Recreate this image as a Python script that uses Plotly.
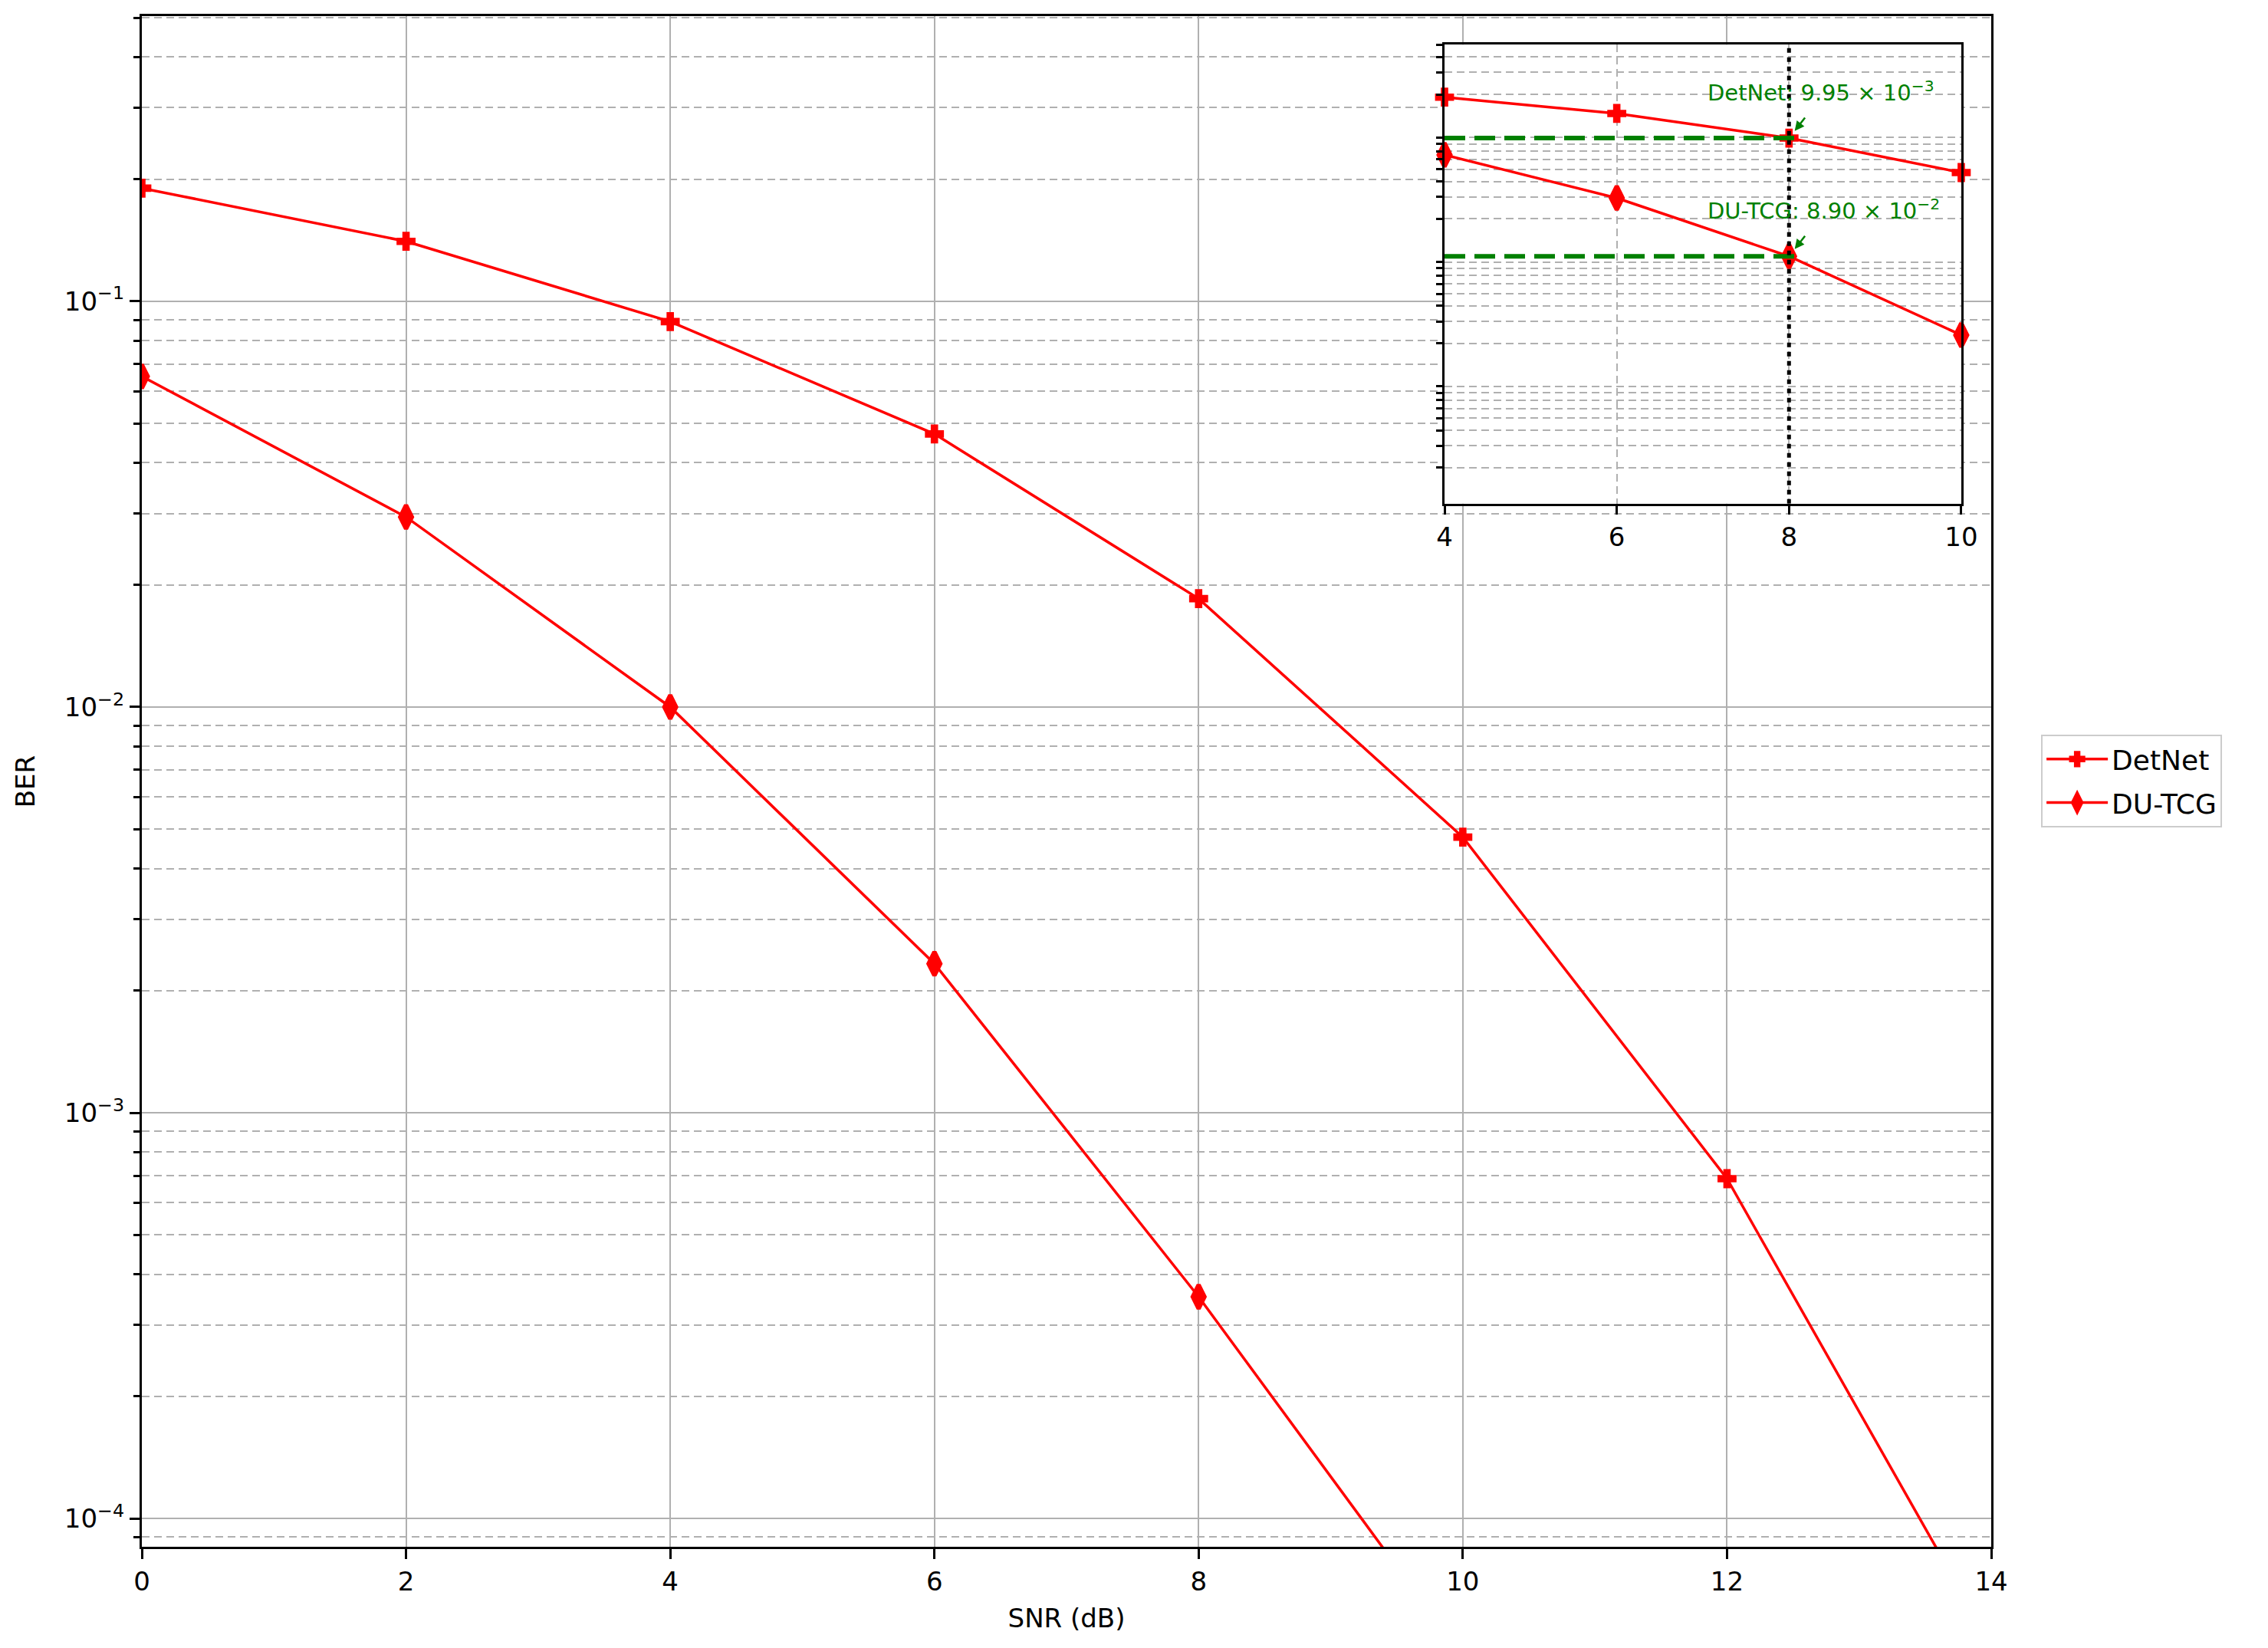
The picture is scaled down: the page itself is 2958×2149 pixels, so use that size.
import math
import plotly.graph_objects as go

# ---------------- data ----------------
snr = [0, 2, 4, 6, 8, 10, 12, 14]
detnet_ber = [0.190, 0.1405, 0.0891, 0.0471, 0.0185, 0.00478, 6.88e-4, 4.89e-5]
dutcg_snr = [0, 2, 4, 6, 8, 10]
dutcg_ber = [0.0653, 0.0294, 0.0100, 0.00233, 3.52e-4, 4.57e-5]

# inset: the first four points of each curve, drawn against SNR 4..10
inset_snr = [4, 6, 8, 10]
inset_detnet = detnet_ber[:4]
inset_dutcg = dutcg_ber[:4]
highlight_snr = 8
highlight_idx = 2
detnet_label = "DetNet: 9.95 × 10<sup>−3</sup>"
dutcg_label = "DU-TCG: 8.90 × 10<sup>−2</sup>"

x_ticks = [0, 2, 4, 6, 8, 10, 12, 14]
y_major = [1e-4, 1e-3, 1e-2, 1e-1]
y_major_text = ["10<sup>−4</sup>", "10<sup>−3</sup>", "10<sup>−2</sup>", "10<sup>−1</sup>"]
inset_x_ticks = [4, 6, 8, 10]

# ---------------- style / geometry ----------------
W, H = 2958, 2149
PAGE_OFF = 8  # browser body margin
ML, MR, MT, MB = 185 - PAGE_OFF, 361 + PAGE_OFF, 21 - PAGE_OFF, 132 + PAGE_OFF
FONT = "DejaVu Sans"
RED = "#ff0000"
GREEN = "#008000"
GRID = "#b0b0b0"
GRID_DASH = "10px,6px"

main_minor = [m * 10 ** e for e in range(-5, 0) for m in range(2, 10)]
inset_minor = [m * 10 ** e for e in range(-4, 0) for m in range(2, 10) if m * 10 ** e <= 0.5]

plus_marker = dict(symbol="cross", size=19, color=RED, line=dict(color=RED, width=2))
diamond_marker = dict(symbol="diamond-tall", size=22, color=RED, line=dict(color=RED, width=5.5))

fig = go.Figure()

# main curves
fig.add_trace(go.Scatter(
    x=snr, y=detnet_ber, name="DetNet", legendgroup="a", mode="lines+markers",
    line=dict(color=RED, width=3.5), marker=plus_marker,
    xaxis="x", yaxis="y", cliponaxis=True))
fig.add_trace(go.Scatter(
    x=dutcg_snr, y=dutcg_ber, name="DU-TCG", legendgroup="b", mode="lines+markers",
    line=dict(color=RED, width=3.5), marker=diamond_marker,
    xaxis="x", yaxis="y", cliponaxis=True))

# inset curves
fig.add_trace(go.Scatter(
    x=inset_snr, y=inset_detnet, mode="lines+markers", showlegend=False,
    line=dict(color=RED, width=3.5), marker=plus_marker,
    xaxis="x2", yaxis="y2", cliponaxis=False))
fig.add_trace(go.Scatter(
    x=inset_snr, y=inset_dutcg, mode="lines+markers", showlegend=False,
    line=dict(color=RED, width=3.5), marker=diamond_marker,
    xaxis="x2", yaxis="y2", cliponaxis=False))

# green reference lines in the inset
for vals in (inset_detnet, inset_dutcg):
    fig.add_trace(go.Scatter(
        x=[inset_snr[0], highlight_snr + 0.13], y=[vals[highlight_idx]] * 2,
        mode="lines", showlegend=False,
        line=dict(color=GREEN, width=6, dash="27px,12px"),
        xaxis="x2", yaxis="y2", cliponaxis=False))

# vertical dotted line at highlighted SNR
fig.add_trace(go.Scatter(
    x=[highlight_snr, highlight_snr], y=[10 ** -3.987, 10 ** -0.300],
    mode="lines", showlegend=False,
    line=dict(color="black", width=5, dash="6px,6px"),
    xaxis="x2", yaxis="y2", cliponaxis=True))

axis_common = dict(
    showline=True, linecolor="black", linewidth=3, mirror=True,
    ticks="outside", tickcolor="black", tickwidth=2.5,
    tickfont=dict(family=FONT, size=34, color="black"),
    zeroline=False,
)

fig.update_layout(
    width=W, height=H,
    margin=dict(l=ML, r=MR, t=MT, b=MB, autoexpand=False),
    paper_bgcolor="white", plot_bgcolor="white",
    font=dict(family=FONT, size=34, color="black"),
    xaxis=dict(
        axis_common, domain=[0, 1], anchor="y", range=[0, 14],
        tickvals=x_ticks, ticklen=13,
        showgrid=True, gridcolor=GRID, gridwidth=2,
        title=dict(text="SNR (dB)", font=dict(family=FONT, size=34), standoff=18),
    ),
    yaxis=dict(
        axis_common, domain=[0, 1], anchor="x", type="log",
        range=[-4.0696, -0.2972],
        tickvals=y_major, ticktext=y_major_text, ticklen=13,
        showgrid=True, gridcolor=GRID, gridwidth=2,
        minor=dict(tickmode="array", tickvals=main_minor, ticks="outside", ticklen=8,
                   tickwidth=2.5, tickcolor="black",
                   showgrid=True, gridcolor=GRID, gridwidth=2, griddash=GRID_DASH),
        title=dict(text="BER", font=dict(family=FONT, size=34), standoff=28),
    ),
    xaxis2=dict(
        axis_common, domain=[0.7044, 0.9838], anchor="y2", range=[4, 10],
        tickvals=inset_x_ticks, ticklen=11,
        showgrid=True, gridcolor=GRID, gridwidth=2, griddash=GRID_DASH,
    ),
    yaxis2=dict(
        axis_common, domain=[0.6815, 0.9813], anchor="x2", type="log",
        range=[-3.987, -0.300],
        tickvals=inset_minor, ticklen=8, showticklabels=False,
        showgrid=True, gridcolor=GRID, gridwidth=2, griddash=GRID_DASH,
    ),
    legend=dict(
        x=1.027, xanchor="left", y=0.5003, yanchor="middle",
        bgcolor="white", bordercolor="#cccccc", borderwidth=2,
        font=dict(family=FONT, size=36, color="black"),
        itemwidth=80, tracegroupgap=7,
    ),
    showlegend=True,
)

annotations = [
    dict(x=7.04, y=-0.674, xref="x2", yref="y2", text=detnet_label, showarrow=False,
         xanchor="left", yanchor="middle", font=dict(family=FONT, size=29, color=GREEN)),
    dict(x=7.04, y=-1.625, xref="x2", yref="y2", text=dutcg_label, showarrow=False,
         xanchor="left", yanchor="middle", font=dict(family=FONT, size=29, color=GREEN)),
]
for vals in (inset_detnet, inset_dutcg):
    annotations.append(dict(
        x=highlight_snr, y=math.log10(vals[highlight_idx]), xref="x2", yref="y2",
        text="", showarrow=True, ax=22, ay=-28, arrowhead=2, arrowsize=1,
        arrowwidth=2.5, arrowcolor=GREEN, standoff=12))
fig.update_layout(annotations=annotations)

fig.write_html("out.html")
